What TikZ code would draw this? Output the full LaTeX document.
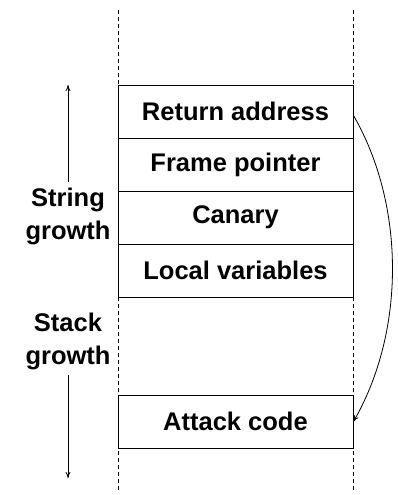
\documentclass[tikz,border=0pt]{standalone}
\usepackage{fontspec}
\setmainfont{Liberation Sans}
\usetikzlibrary{arrows.meta}

\begin{document}
\begin{tikzpicture}[
  x=1pt, y=-1pt,
  frame/.style={draw, fill=white, line width=1pt, minimum width=235pt,
                minimum height=53pt, inner sep=0pt,
                font=\fontsize{25.5}{30}\selectfont\bfseries},
  label/.style={align=center, inner sep=5pt,
                font=\fontsize{25.5}{33}\selectfont\bfseries},
  bound/.style={dashed, dash pattern=on 4pt off 3pt, line width=0.8pt},
  arrow/.style={-{To[length=6pt,width=5pt]}, line width=0.8pt}
]
  \useasboundingbox (0,0) rectangle (398,495);

  % stack edges
  \draw[bound] (118,10) -- (118,490);
  \draw[bound] (353,10) -- (353,490);

  \node[frame] (ret)   at (235.5,111.5) {Return address};
  \node[frame] (fp)    at (235.5,164.5) {Frame pointer};
  \node[frame] (can)   at (235.5,217.5) {Canary};
  \node[frame] (loc)   at (235.5,270.5) {Local variables};
  \node[frame] (atk)   at (235.5,421.5) {Attack code};

  \node[label] (string) at (68,216) {String\\growth};
  \node[label] (stack)  at (68,341) {Stack\\growth};
  \coordinate (uptip)   at (68,85);
  \coordinate (downtip) at (68,478);

  \draw[arrow] (string.north) -- (uptip);
  \draw[arrow] (stack.south) -- (downtip);
  \draw[arrow] (ret.east) ++(0,4) to[out=-60, in=60, looseness=0.87] (atk.east);
\end{tikzpicture}
\end{document}
